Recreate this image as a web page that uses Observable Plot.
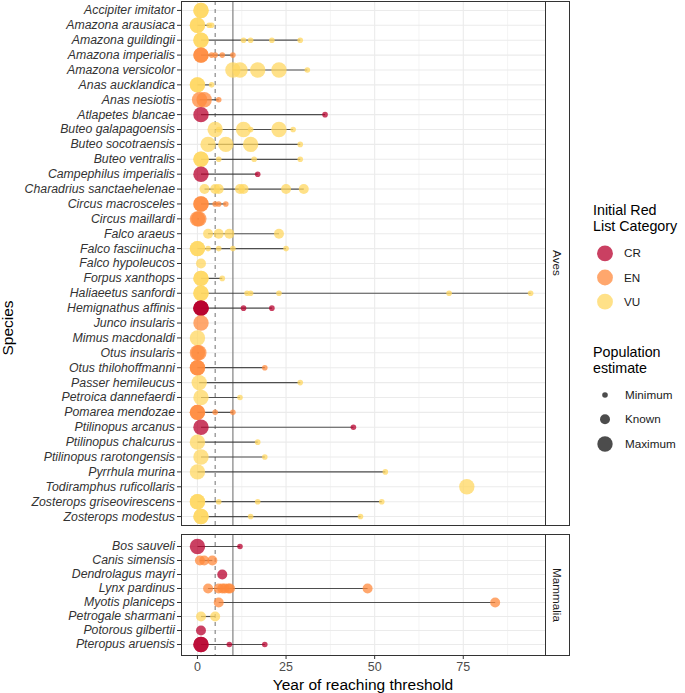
<!DOCTYPE html>
<html><head><meta charset="utf-8">
<script src="https://cdn.jsdelivr.net/npm/d3@7"></script>
<script src="https://cdn.jsdelivr.net/npm/@observablehq/plot@0.6"></script>
<style>
body{margin:0;background:#fff;font-family:"Liberation Sans",Arial,sans-serif;}
#chart{position:relative;width:685px;height:693px;overflow:hidden;background:#fff;}
.abs{position:absolute;white-space:nowrap;}
.strip{position:absolute;box-sizing:border-box;border:1px solid #333;background:#fff;}
.strip span{position:absolute;left:50%;top:50%;transform:translate(-50%,-50%) rotate(90deg);font-size:11.7px;color:#1a1a1a;white-space:nowrap;}
.ltitle{font-size:14.3px;line-height:16px;color:#000;}
.llab{font-size:11.7px;color:#1a1a1a;}
</style></head><body><div id="chart"></div>
<script>
// ---------- data ----------
const avesSpecies = ["Accipiter imitator","Amazona arausiaca","Amazona guildingii","Amazona imperialis","Amazona versicolor","Anas aucklandica","Anas nesiotis","Atlapetes blancae","Buteo galapagoensis","Buteo socotraensis","Buteo ventralis","Campephilus imperialis","Charadrius sanctaehelenae","Circus macrosceles","Circus maillardi","Falco araeus","Falco fasciinucha","Falco hypoleucos","Forpus xanthops","Haliaeetus sanfordi","Hemignathus affinis","Junco insularis","Mimus macdonaldi","Otus insularis","Otus thilohoffmanni","Passer hemileucus","Petroica dannefaerdi","Pomarea mendozae","Ptilinopus arcanus","Ptilinopus chalcurus","Ptilinopus rarotongensis","Pyrrhula murina","Todiramphus ruficollaris","Zosterops griseovirescens","Zosterops modestus"];
const avesCategory = ["VU","VU","VU","EN","VU","VU","EN","CR","VU","VU","VU","CR","VU","EN","EN","VU","VU","VU","VU","VU","CR","EN","VU","EN","EN","VU","VU","EN","CR","VU","VU","VU","VU","VU","VU"];
const avesMaximum = [[1,1],[0,0],[1,1],[1,1],[10,12,17,23],[0,0],[0.6,1.9],[1],[5,13,23],[3,8,15],[1,1],[1],[],[1,1],[0,0.4],[],[0,0],[],[1,1],[1,1],[1,1,1],[1],[0],[0,0.4],[0,0],[0.5],[1],[0,0],[1],[0],[1],[0],[76],[0,0],[1,1]];
const avesKnown = [[],[],[],[],[],[],[],[],[],[],[],[],[2,5,6,12,13,25,30],[],[],[3,6,9,23],[],[1],[],[],[],[],[],[],[],[],[],[],[],[],[],[],[],[],[]];
const avesMinimum = [[],[3.3,4],[13,15,21,29],[4,5,7,10],[31],[4],[6],[36],[6,15,27],[29],[6,16,29],[17],[],[5,6,8],[],[],[3,6,10,25],[],[7],[14,15,23,71,94],[13,21],[],[],[],[19],[29],[12],[5,10],[44],[17],[19],[53],[],[6,17,52],[15,46]];

const mammaliaSpecies = ["Bos sauveli","Canis simensis","Dendrolagus mayri","Lynx pardinus","Myotis planiceps","Petrogale sharmani","Potorous gilbertii","Pteropus aruensis"];
const mammaliaCategory = ["CR","EN","CR","EN","EN","VU","CR","CR"];
const mammaliaMaximum = [[0],[],[],[],[],[],[],[1,1]];
const mammaliaKnown = [[],[0.7,1.9,4.2],[7],[3,6,7,7.7,8.7,9.2,48],[6,84],[1,5],[1],[]];
const mammaliaMinimum = [[12],[],[],[],[],[],[],[9,19]];

const categories = ["CR","EN","VU"];
const estimates = ["Minimum","Known","Maximum"];
const xTicks = [0,25,50,75];
const xMinorTicks = [12.5,37.5,62.5,87.5];
const dashedThreshold = [5];
const solidThreshold = [10];

// ---------- styles ----------
const categoryColors = ["#b8002e","#ff8a3c","#ffd760"];
const estimateRadius = {Minimum:2.8, Known:5, Maximum:7.7};
const xDomain = [-4.5, 98.2];
const fontFamily = '"Liberation Sans", Arial, sans-serif';

function buildRows(names, cats, maxs, knowns, mins) {
  const rows = [];
  names.forEach((s, i) => {
    maxs[i].forEach(v => rows.push({species:s, category:cats[i], estimate:"Maximum", year:v}));
    knowns[i].forEach(v => rows.push({species:s, category:cats[i], estimate:"Known", year:v}));
    mins[i].forEach(v => rows.push({species:s, category:cats[i], estimate:"Minimum", year:v}));
  });
  return rows;
}
function buildSegments(names, rows) {
  return names.map(s => {
    const ys = rows.filter(r => r.species === s).map(r => r.year);
    return {species:s, x1:d3.min(ys), x2:d3.max(ys)};
  }).filter(d => d.x2 > d.x1);
}

function panel(names, rows, {height, marginTop, marginBottom, showX}) {
  const segs = buildSegments(names, rows);
  const marks = [
    Plot.ruleY(names, {y:d=>d, stroke:"#ebebeb", strokeWidth:1.1}),
    Plot.ruleX(xMinorTicks, {x:d=>d, stroke:"#ebebeb", strokeWidth:0.55}),
    Plot.ruleX(xTicks, {x:d=>d, stroke:"#ebebeb", strokeWidth:1.1}),
    Plot.ruleX(dashedThreshold, {x:d=>d, stroke:"#7f7f7f", strokeWidth:1.1, strokeDasharray:"4,4"}),
    Plot.ruleX(solidThreshold, {x:d=>d, stroke:"#8a8a8a", strokeWidth:1.3}),
    Plot.link(segs, {x1:"x1", x2:"x2", y1:"species", y2:"species", stroke:"#333", strokeOpacity:0.85, strokeWidth:1.2}),
  ];
  for (const e of ["Maximum","Known","Minimum"]) {
    marks.push(Plot.dot(rows.filter(r => r.estimate === e), {x:"year", y:"species", r:estimateRadius[e], fill:"category", fillOpacity:0.75, stroke:null}));
  }
  marks.push(Plot.frame({stroke:"#333", strokeWidth:1}));
  marks.push(Plot.axisY({tickSize:4, tickPadding:2.5, fontStyle:"italic", fontSize:12.3, label:null, stroke:"#333", fill:"#333"}));
  if (showX) marks.push(Plot.axisX(xTicks, {tickSize:4, tickPadding:3, fontSize:12.5, label:null, stroke:"#333", fill:"#4d4d4d"}));
  return Plot.plot({
    width:570, height, marginTop, marginBottom, marginLeft:181, marginRight:25,
    style:{fontFamily, fontSize:"12.3px", color:"#333", background:"transparent", overflow:"visible"},
    x:{domain:xDomain, axis:null},
    y:{type:"point", domain:names, padding:0.6, axis:null},
    color:{domain:categories, range:categoryColors},
    marks
  });
}

const chart = document.getElementById("chart");
function place(el, left, top) { el.style.position="absolute"; el.style.left=left+"px"; el.style.top=top+"px"; chart.appendChild(el); return el; }

const avesRows = buildRows(avesSpecies, avesCategory, avesMaximum, avesKnown, avesMinimum);
const mamRows = buildRows(mammaliaSpecies, mammaliaCategory, mammaliaMaximum, mammaliaKnown, mammaliaMinimum);

place(panel(avesSpecies, avesRows, {height:527, marginTop:1, marginBottom:2, showX:false}), 0, 0);
const pB = place(panel(mammaliaSpecies, mamRows, {height:163, marginTop:4, marginBottom:38, showX:true}), 0, 530);

function strip(text, top, h) {
  const d = document.createElement("div"); d.className="strip";
  d.style.left="544.5px"; d.style.top=top+"px"; d.style.width="25px"; d.style.height=h+"px";
  const s = document.createElement("span"); s.textContent=text; d.appendChild(s);
  chart.appendChild(d);
}
strip("Aves", 0.5, 525);
strip("Mammalia", 533.5, 122);

function textDiv(txt, cls, style) {
  const d = document.createElement("div"); d.className="abs "+(cls||""); d.textContent=txt;
  Object.assign(d.style, style); chart.appendChild(d); return d;
}
// axis titles
textDiv("Year of reaching threshold", "", {left:"363px", top:"675.5px", transform:"translateX(-50%)", fontSize:"15.5px", lineHeight:"18px", color:"#000"});
textDiv("Species", "", {left:"8px", top:"328px", transform:"translate(-50%,-50%) rotate(-90deg)", fontSize:"15.5px", lineHeight:"18px", color:"#000"});

// legend
const colorScale = d3.scaleOrdinal(categories, categoryColors);
const t1 = textDiv("", "ltitle", {left:"593px", top:"202px"}); t1.innerHTML = "Initial Red<br>List Category";
const legendSvg = d3.select(chart).append("svg").attr("width",40).attr("height",260)
  .style("position","absolute").style("left","585px").style("top","230px");
categories.forEach((c, i) => {
  const cy = 253.3 + i*24.2;
  legendSvg.append("circle").attr("cx",20).attr("cy",cy-230).attr("r",7.9).attr("fill",colorScale(c)).attr("fill-opacity",0.75);
  textDiv(c, "llab", {left:"624px", top:(cy-7)+"px", lineHeight:"14px"});
});
const t2 = textDiv("", "ltitle", {left:"593px", top:"344px"}); t2.innerHTML = "Population<br>estimate";
estimates.forEach((e, i) => {
  const cy = [395, 419.3, 444][i];
  legendSvg.append("circle").attr("cx",20).attr("cy",cy-230).attr("r",estimateRadius[e]).attr("fill","#000").attr("fill-opacity",0.7);
  textDiv(e, "llab", {left:"625px", top:(cy-7)+"px", lineHeight:"14px"});
});
</script>
</body></html>
